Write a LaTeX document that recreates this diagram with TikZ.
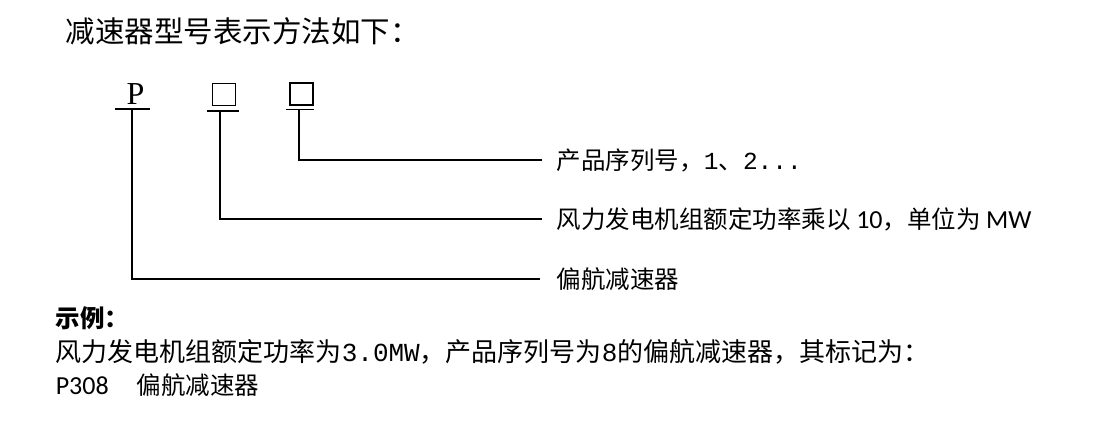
\documentclass[tikz,border=0pt]{standalone}
\usepackage{fontspec}
\setmainfont{Liberation Serif}
\setmonofont{Liberation Mono}
\newfontfamily\cjk{Noto Sans CJK SC}
\newfontfamily\latin{Carlito}

\begin{document}
\begin{tikzpicture}[x=1pt,y=-1pt,line width=1.6pt,
  lbl/.style={anchor=west,inner sep=0pt,font=\cjk\fontsize{24.5}{24.5}\selectfont},
  codebox/.style={draw,inner sep=0pt,minimum width=23pt,minimum height=22pt},
  bar/.style={line width=2pt}]
\useasboundingbox (0,0) rectangle (1102,426);
\node[lbl,font=\cjk\fontsize{29.5}{29.5}\selectfont] (title) at (65,31) {减速器型号表示方法如下：};
% code letters
\node[inner sep=0pt,font=\fontsize{32}{32}\selectfont] (P) at (135.5,94) {P};
\node[codebox,line width=1pt] (c1) at (223.5,94) {};
\node[codebox,line width=2pt] (c2) at (301.5,94) {};
\coordinate (pb) at (132,109);
\coordinate (c1b) at (220,111);
\coordinate (c2b) at (299,109);
\draw[bar] (115,109) -- (150,109);
\draw[bar] (207,111) -- (239,111);
\draw[line width=1pt] (286,109) -- (314,109);
% meanings
\node[lbl] (l1) at (556,160) {产品序列号，{\ttfamily 1}、{\ttfamily 2...}};
\node[lbl] (l2) at (556,219) {风力发电机组额定功率乘以 {\latin\fontsize{26}{26}\selectfont 10}，单位为 {\latin\fontsize{26}{26}\selectfont MW}};
\node[lbl] (l3) at (556,279) {偏航减速器};
\draw (c2b) |- ([xshift=-14pt]l1.west);
\draw[line width=2.4pt] (c1b) |- ([xshift=-14pt]l2.west);
\draw (pb) |- ([xshift=-16pt]l3.west);
% example
\node[lbl,font=\cjk\bfseries\fontsize{24.5}{24.5}\selectfont] (ex) at (55,318) {示例：};
\node[lbl,font=\cjk\fontsize{26}{26}\selectfont] (exline) at (55,352) {风力发电机组额定功率为{\ttfamily 3.0MW}，产品序列号为{\ttfamily 8}的偏航减速器，其标记为：};
\node[lbl] (mark) at (55,385) {{\latin\fontsize{26}{26}\selectfont P308}\hspace{28pt}偏航减速器};
\end{tikzpicture}
\end{document}
